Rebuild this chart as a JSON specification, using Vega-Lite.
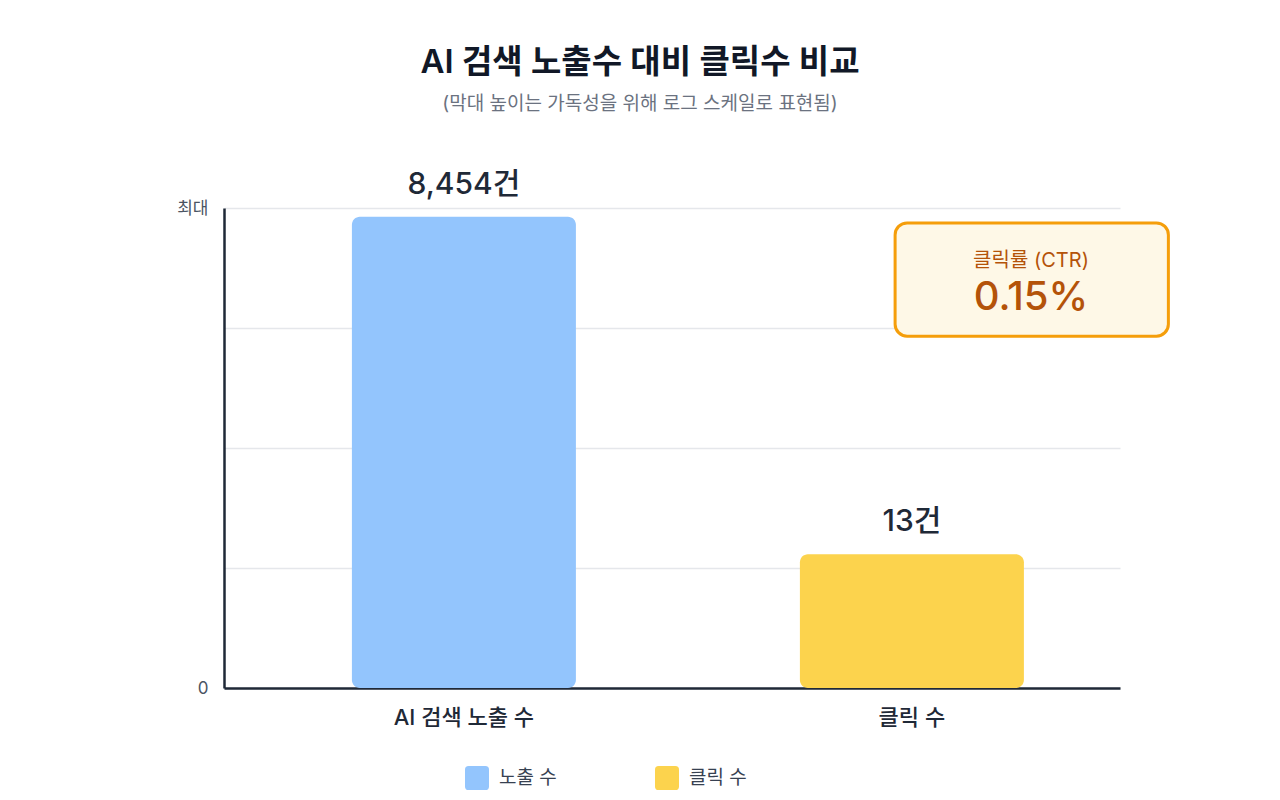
{
  "$schema": "https://vega.github.io/schema/vega-lite/v6.json",
  "autosize": {"type": "none"},
  "width": 896,
  "height": 480,
  "padding": {"left": 224, "top": 208, "right": 160, "bottom": 112},
  "background": "white",
  "title": {
    "text": "AI 검색 노출수 대비 클릭수 비교",
    "subtitle": "(막대 높이는 가독성을 위해 로그 스케일로 표현됨)",
    "anchor": "middle",
    "dx": -32,
    "offset": 56,
    "fontSize": 33,
    "fontWeight": 600,
    "color": "#111827",
    "subtitleFontSize": 19,
    "subtitleFontWeight": 400,
    "subtitleColor": "#6b7280",
    "subtitlePadding": 15
  },
  "config": {
    "font": "Inter, Noto Sans CJK KR, sans-serif",
    "view": {"stroke": null}
  },
  "datasets": {
    "counts": [
      {"항목": "AI 검색 노출 수", "series": "노출 수", "count": 8454},
      {"항목": "클릭 수", "series": "클릭 수", "count": 13}
    ],
    "ctr": [
      {"label": "클릭률 (CTR)", "ctr": 0.001538}
    ]
  },
  "layer": [
    {
      "data": {"name": "counts"},
      "transform": [
        {"calculate": "format(datum.count, ',') + '건'", "as": "countLabel"}
      ],
      "encoding": {
        "x": {
          "field": "항목",
          "type": "nominal",
          "sort": null,
          "scale": {"paddingInner": 0.5, "paddingOuter": 0.25, "align": 0.571},
          "axis": {
            "title": null,
            "labelAngle": 0,
            "labelFontSize": 22,
            "labelFontWeight": 500,
            "labelColor": "#1f2937",
            "labelPadding": 19,
            "ticks": false,
            "domainColor": "#1f2937",
            "domainWidth": 2.5
          }
        },
        "y": {
          "field": "count",
          "type": "quantitative",
          "scale": {"type": "log", "domain": [1, 10000], "nice": false},
          "axis": {
            "title": null,
            "values": [1, 10, 100, 1000, 10000],
            "labelExpr": "datum.value == 1 ? '0' : datum.value == 10000 ? '최대' : ''",
            "labelFontSize": 17,
            "labelColor": "#4b5563",
            "labelPadding": 16,
            "ticks": false,
            "grid": true,
            "gridColor": "#e5e7eb",
            "gridWidth": 1.5,
            "domainColor": "#1f2937",
            "domainWidth": 2.5
          }
        }
      },
      "layer": [
        {
          "mark": {"type": "bar", "cornerRadius": 8},
          "encoding": {
            "y2": {"datum": 1},
            "color": {
              "field": "series",
              "type": "nominal",
              "sort": null,
              "scale": {"domain": ["노출 수", "클릭 수"], "range": ["#93c5fd", "#fcd34d"]},
              "legend": {
                "title": null,
                "orient": "none",
                "direction": "horizontal",
                "legendX": 241,
                "legendY": 558,
                "symbolType": "M-0.7,-1H0.7Q1,-1 1,-0.7V0.7Q1,1 0.7,1H-0.7Q-1,1 -1,0.7V-0.7Q-1,-1 -0.7,-1Z",
                "symbolSize": 576,
                "symbolStrokeWidth": 0,
                "symbolOpacity": 1,
                "labelFontSize": 19,
                "labelFontWeight": 400,
                "labelColor": "#374151",
                "labelOffset": 10,
                "columnPadding": 98
              }
            }
          }
        },
        {
          "mark": {"type": "text", "baseline": "alphabetic", "dy": -23, "fontSize": 30, "fontWeight": 500, "color": "#1f2937"},
          "encoding": {"text": {"field": "countLabel"}}
        }
      ]
    },
    {
      "data": {"name": "ctr"},
      "layer": [
        {
          "mark": {"type": "rect", "cornerRadius": 12, "fill": "#fef8e7", "stroke": "#f59e0b", "strokeWidth": 3},
          "encoding": {
            "x": {"datum": 0.749, "type": "quantitative", "scale": {"domain": [0, 1], "nice": false}, "axis": null},
            "x2": {"datum": 1.054},
            "y": {"datum": 0.733, "type": "quantitative", "scale": {"domain": [0, 1], "nice": false}, "axis": null},
            "y2": {"datum": 0.969}
          }
        },
        {
          "mark": {"type": "text", "fontSize": 20, "fontWeight": 400, "color": "#b45309", "baseline": "middle"},
          "encoding": {
            "x": {"datum": 0.9007, "type": "quantitative", "axis": null},
            "y": {"datum": 0.8896, "type": "quantitative", "axis": null},
            "text": {"field": "label"}
          }
        },
        {
          "mark": {"type": "text", "fontSize": 40, "fontWeight": 500, "color": "#b45309", "baseline": "middle"},
          "encoding": {
            "x": {"datum": 0.9007, "type": "quantitative", "axis": null},
            "y": {"datum": 0.8125, "type": "quantitative", "axis": null},
            "text": {"field": "ctr", "format": ".2%"}
          }
        }
      ]
    }
  ],
  "resolve": {"scale": {"x": "independent", "y": "independent"}}
}
